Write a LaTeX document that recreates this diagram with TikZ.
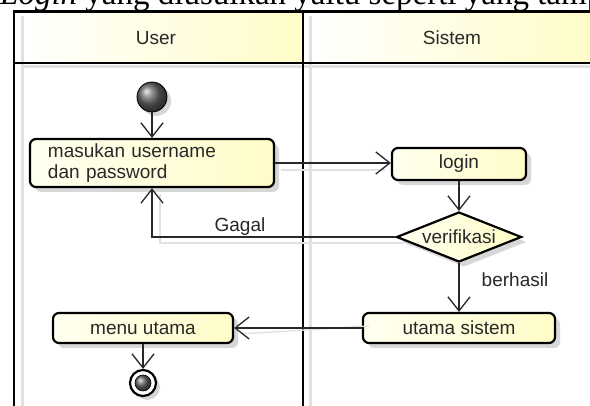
\documentclass[tikz,border=0pt]{standalone}
\usepackage{fontspec}
\setmainfont{Liberation Serif}
\newfontfamily\diag{Liberation Sans}
\usetikzlibrary{arrows.meta,shapes.geometric,shadows}
\definecolor{hdrY}{RGB}{255,252,200}
\definecolor{actL}{RGB}{255,255,240}
\definecolor{actR}{RGB}{255,252,200}
\definecolor{shd}{RGB}{215,215,215}
\definecolor{lshd}{RGB}{225,225,225}
\definecolor{ink}{RGB}{40,40,40}
\tikzset{
  dfont/.style={font=\diag\fontsize{19}{21}\selectfont, text=ink},
  act/.style={draw=black, line width=2.2pt, rounded corners=6pt, left color=actL, right color=actR,
    dfont, inner sep=0pt, drop shadow={shadow xshift=5pt, shadow yshift=-5pt, fill=shd, opacity=1}},
  dec/.style={diamond, draw=black, line width=2.2pt, left color=actL, right color=actR, dfont,
    inner sep=0pt, aspect=2.5, drop shadow={shadow xshift=5pt, shadow yshift=-5pt, fill=shd, opacity=1}},
  flow/.style={draw=ink, line width=1.3pt, -{Straight Barb[length=14pt,width=22pt,line width=1.3pt]}},
  flowshd/.style={draw=lshd, line width=1.3pt},
  lanefr/.style={draw=black, line width=2.2pt},
  laneshd/.style={draw=lshd, line width=3pt},
  lbl/.style={dfont, inner sep=0pt}
}
\begin{document}
\begin{tikzpicture}[x=1pt,y=-1pt]
\useasboundingbox (0,0) rectangle (590,406);
\begin{scope}
\clip (0,0) rectangle (590,406);
\fill[white] (0,0) rectangle (590,406);
% title line (cut at top, as in the reference)
\node[anchor=base west, inner sep=0pt, font=\fontsize{33}{37}\selectfont] (title) at (0,4.5)
  {\textit{Login} yang diusulkan yaitu seperti yang tampil};
% lane headers
\shade[left color=white, right color=hdrY] (14,11.5) rectangle (303,63);
\shade[left color=white, right color=hdrY] (303,11.5) rectangle (590,63);
\node[dfont, inner sep=0pt] (huser) at (156,38) {User};
\node[dfont, inner sep=0pt] (hsis) at (452,38) {Sistem};
% lane shadows
\draw[laneshd] (22,16) -- (22,406);
\draw[laneshd] (310,16) -- (310,406);
\draw[laneshd] (22,67) -- (590,67);
% lane frame
\draw[lanefr] (590,11.5) -- (14,11.5) -- (14,406);
\draw[lanefr] (14,63) -- (590,63);
\draw[lanefr] (303,11.5) -- (303,406);
% nodes
\node[circle, draw=black, line width=0.8pt, minimum size=30pt, inner sep=0pt, ball color=gray!80!black,
  drop shadow={shadow xshift=4pt, shadow yshift=-4pt, fill=shd, opacity=1}] (start) at (152,97) {};
\node[act, minimum width=244pt, minimum height=48pt, align=left, text width=208pt] (box1) at (152,163)
  {masukan username\\dan password};
\node[act, minimum width=134pt, minimum height=32pt] (login) at (459,164) {login};
\node[dec, minimum width=125pt, minimum height=50pt] (verif) at (459,237) {verifikasi};
\node[act, minimum width=192pt, minimum height=30pt] (utama) at (459,328) {utama sistem};
\node[act, minimum width=180pt, minimum height=30pt] (menu) at (143,328) {menu utama};
\node[circle, draw=black, line width=2.2pt, fill=white, minimum size=26pt, inner sep=0pt,
  drop shadow={shadow xshift=4pt, shadow yshift=-4pt, fill=shd, opacity=1}] (endo) at (143,383) {};
\node[circle, draw=black, line width=0.6pt, minimum size=16pt, inner sep=0pt, ball color=gray!80!black] (endi) at (endo) {};
% connector shadows
\draw[flowshd] ([shift={(8,6)}]verif.west) -| ([shift={(8,6)}]box1.south);
\draw[flowshd] ([shift={(6,7)}]box1.east) -- ([shift={(-6,7)}]box1.east -| login.west);
\draw[flowshd] ([shift={(7,-2)}]utama.west) -- ([shift={(7,6)}]menu.east);
% connectors
\draw[flow] (start) -- (box1);
\draw[flow] (box1.east) -- (box1.east -| login.west);
\draw[flow] (login) -- (verif);
\draw[flow] (verif.west) -| (box1.south);
\draw[flow] (verif) -- (utama);
\draw[flow] (utama) -- (menu);
\draw[flow] (menu) -- (endo);
% labels
\node[lbl] (lgagal) at (240,227) {Gagal};
\node[lbl] (lberhasil) at (515,280) {berhasil};
\end{scope}
\end{tikzpicture}
\end{document}
